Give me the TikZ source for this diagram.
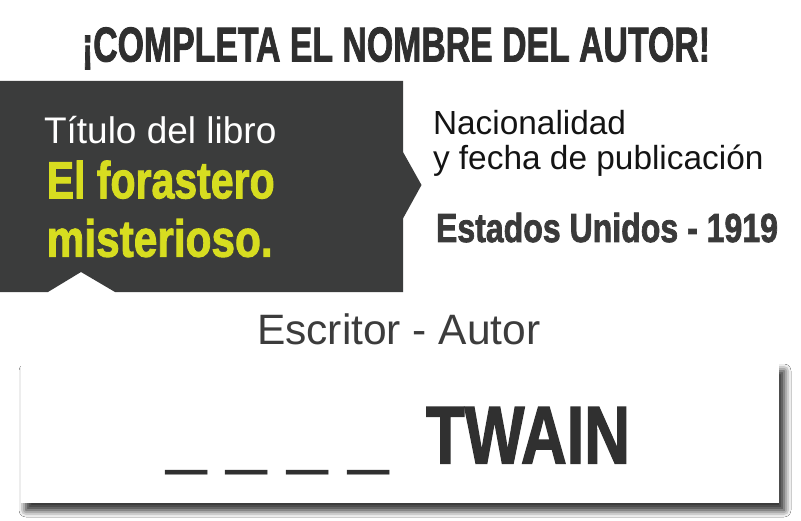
\documentclass[tikz,border=0pt]{standalone}
\usepackage{fontspec}
\usepackage{graphicx}
\setmainfont{Liberation Sans}
\newfontfamily\imp{Liberation Sans}[BoldFeatures={FakeBold=2}]
\usetikzlibrary{shadows.blur}
\definecolor{darkbox}{RGB}{59,60,60}
\definecolor{lime}{RGB}{215,221,32}
\definecolor{titlecol}{RGB}{47,47,47}
\definecolor{estcol}{RGB}{58,58,58}
\definecolor{nacol}{RGB}{20,20,20}
\definecolor{escol}{RGB}{60,60,60}
\definecolor{twcol}{RGB}{48,48,48}
\newcommand{\cfit}[3]{\resizebox{#1}{\height}{\fontsize{#2}{#2}\selectfont\imp\bfseries #3}}
\begin{document}
\begin{tikzpicture}[x=1bp,y=-1bp,
  txt/.style={anchor=base west,inner sep=0pt,outer sep=0pt},
  reg/.style={txt,font=\fontsize{#1}{#1}\selectfont}]
\path[use as bounding box,fill=white] (0,0) rectangle (801,521);
% title
\node[txt,text=titlecol] (title) at (82,61.5) {\cfit{628bp}{48.9bp}{¡COMPLETA EL NOMBRE DEL AUTOR!}};
% dark box
\fill[darkbox] (0,81) -- (403,81) -- (403,152) -- (421.5,185) -- (403,218.5) -- (403,292) -- (115,292) -- (81,272) -- (48,292) -- (0,292) -- cycle;
\node[reg=37bp,text=white] (tlabel) at (44,143.3) {Título del libro};
\node[txt,text=lime] (t1) at (46.7,198.3) {\cfit{228bp}{52bp}{El forastero}};
\node[txt,text=lime] (t2) at (46.7,256.7) {\cfit{226bp}{52bp}{misterioso.}};
% right texts
\node[reg=33.4bp,text=nacol] (nac1) at (433,135) {Nacionalidad};
\node[reg=33.4bp,text=nacol] (nac2) at (433,169.3) {y fecha de publicación};
\node[txt,text=estcol] (est) at (436,242) {\cfit{342bp}{40.5bp}{Estados Unidos - 1919}};
% writer label
\node[reg=42.5bp,text=escol] (esc) at (257,344) {Escritor - Autor};
% answer box
\fill[white,blur shadow={shadow xshift=0bp,shadow yshift=0bp,shadow blur radius=5bp,shadow opacity=15},
  blur shadow={shadow xshift=5bp,shadow yshift=-7bp,shadow blur radius=7bp,shadow opacity=55}] (21,364) rectangle (779,503);
\node[reg=73bp,text=twcol] (blanks) at (166,460) {\_ \_ \_ \_};
\node[txt,text=twcol] (twain) at (426,463.3) {\cfit{204bp}{81.4bp}{TWAIN}};
\end{tikzpicture}
\end{document}
